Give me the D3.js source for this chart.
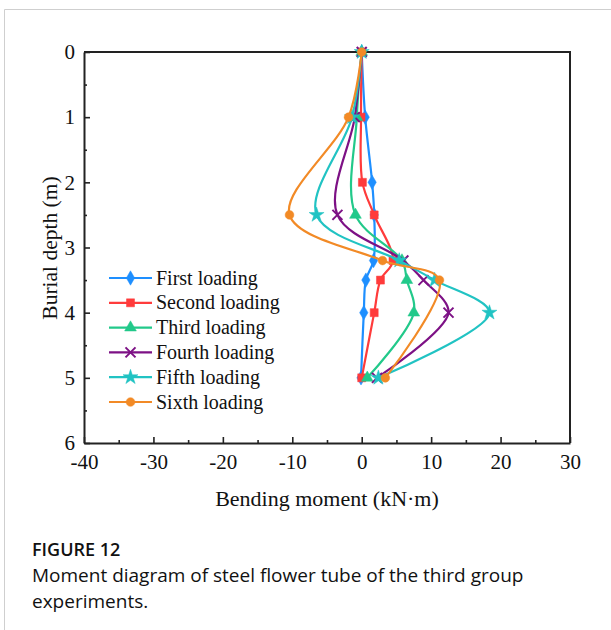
<!DOCTYPE html>
<html>
<head>
<meta charset="utf-8">
<script src="https://cdn.jsdelivr.net/npm/d3@7"></script>
<style>
  body { margin: 0; background: #fff; }
  svg text { font-family: "Times New Roman", "Liberation Serif", serif; fill: #111; }
</style>
</head>
<body>
<svg id="chart" width="611" height="630"></svg>
<script>
// depth (m) and bending moment (kN·m)
var firstDepth = [0, 1, 2, 2.5, 3.2, 3.5, 4, 5];
var firstMoment = [0, 0.5, 1.5, 1.8, 1.7, 0.6, 0.3, -0.1];
var secondDepth = [0, 1, 2, 2.5, 3.2, 3.5, 4, 5];
var secondMoment = [0, -0.1, 0.1, 1.8, 4.5, 2.7, 1.8, 0];
var thirdDepth = [0, 1, 2.5, 3.2, 3.5, 4, 5];
var thirdMoment = [0, -0.7, -0.9, 5.8, 6.5, 7.5, 0.8];
var fourthDepth = [0, 1, 2.5, 3.2, 3.5, 4, 5];
var fourthMoment = [0, -1.0, -3.5, 6.0, 8.9, 12.5, 2.2];
var fifthDepth = [0, 1, 2.5, 3.2, 3.5, 4, 5];
var fifthMoment = [0, -1.4, -6.5, 5.4, 10.5, 18.4, 2.4];
var sixthDepth = [0, 1, 2.5, 3.2, 3.5, 5];
var sixthMoment = [0, -1.9, -10.4, 3.0, 11.2, 3.4];

var seriesNames = ["First loading", "Second loading", "Third loading", "Fourth loading", "Fifth loading", "Sixth loading"];
var seriesColors = ["#1e8fff", "#ff3b3b", "#22c98a", "#7d1185", "#21c3c3", "#f28a26"];
var xTicks = [-40, -30, -20, -10, 0, 10, 20, 30];
var yTicks = [0, 1, 2, 3, 4, 5, 6];

var depths = [firstDepth, secondDepth, thirdDepth, fourthDepth, fifthDepth, sixthDepth];
var moments = [firstMoment, secondMoment, thirdMoment, fourthMoment, fifthMoment, sixthMoment];

var svg = d3.select("#chart");

// card border of the page
svg.append("path")
    .attr("d", "M4.5,630 L4.5,9.5 L611,9.5")
    .attr("fill", "none").attr("stroke", "#cfcfcf").attr("stroke-width", 1);

var x = d3.scaleLinear().domain([-40, 30]).range([84, 570]);
var y = d3.scaleLinear().domain([0, 6]).range([52, 443]);

var axisColor = "#222";
var plain = function (d) { return String(d); };

// minor ticks
svg.append("g").attr("transform", "translate(0,443)")
    .call(d3.axisBottom(x).tickValues(d3.range(-35, 30, 10)).tickSize(-3).tickSizeOuter(0).tickFormat(""))
    .call(function (g) { g.select(".domain").remove(); g.selectAll("line").attr("stroke", axisColor).attr("stroke-width", 1.6); });
svg.append("g").attr("transform", "translate(84,0)")
    .call(d3.axisLeft(y).tickValues([0.5, 1.5, 2.5, 3.5, 4.5, 5.5]).tickSize(-3).tickSizeOuter(0).tickFormat(""))
    .call(function (g) { g.select(".domain").remove(); g.selectAll("line").attr("stroke", axisColor).attr("stroke-width", 1.6); });

// major axes
var xAxis = svg.append("g").attr("transform", "translate(0,443)")
    .call(d3.axisBottom(x).tickValues(xTicks).tickFormat(plain).tickSize(-6).tickSizeOuter(0).tickPadding(11));
var yAxis = svg.append("g").attr("transform", "translate(84,0)")
    .call(d3.axisLeft(y).tickValues(yTicks).tickFormat(plain).tickSize(-6).tickSizeOuter(0).tickPadding(9));
[xAxis, yAxis].forEach(function (g) {
    g.select(".domain").attr("stroke", axisColor).attr("stroke-width", 2);
    g.selectAll(".tick line").attr("stroke", axisColor).attr("stroke-width", 1.6);
    g.selectAll(".tick text").style("font-size", "21px").attr("fill", "#111")
        .style("font-family", '"Times New Roman", "Liberation Serif", serif');
});

// top and right frame
svg.append("path")
    .attr("d", "M" + x(-40) + "," + y(0) + " L" + x(30) + "," + y(0) + " L" + x(30) + "," + y(6))
    .attr("fill", "none").attr("stroke", axisColor).attr("stroke-width", 2);

// axis titles
svg.append("text").attr("x", 327).attr("y", 506).attr("text-anchor", "middle")
    .style("font-size", "22px").text("Bending moment (kN·m)");
svg.append("text").attr("transform", "translate(57,248) rotate(-90)").attr("text-anchor", "middle")
    .style("font-size", "21.5px").text("Burial depth (m)");

// markers
function xMark(s) {
    return "M" + (-s) + "," + (-s) + "L" + s + "," + s + "M" + (-s) + "," + s + "L" + s + "," + (-s);
}
var markers = [
    d3.symbol().type(d3.symbolDiamond).size(60)(),
    d3.symbol().type(d3.symbolSquare).size(64)(),
    d3.symbol().type(d3.symbolTriangle).size(60)(),
    xMark(5),
    d3.symbol().type(d3.symbolStar).size(70)(),
    d3.symbol().type(d3.symbolCircle).size(60)()
];

var line = d3.line()
    .x(function (d) { return x(d[0]); })
    .y(function (d) { return y(d[1]); })
    .curve(d3.curveCatmullRom.alpha(0.5));

depths.forEach(function (dep, i) {
    var pts = dep.map(function (d, k) { return [moments[i][k], d]; });
    var g = svg.append("g");
    g.append("path").attr("d", line(pts))
        .attr("fill", "none").attr("stroke", seriesColors[i]).attr("stroke-width", 2.2);
    g.selectAll("path.m").data(pts).enter().append("path")
        .attr("class", "m")
        .attr("d", markers[i])
        .attr("transform", function (d) { return "translate(" + x(d[0]) + "," + y(d[1]) + ")"; })
        .attr("fill", i === 3 ? "none" : seriesColors[i])
        .attr("stroke", seriesColors[i])
        .attr("stroke-width", i === 3 ? 2 : 0.5);
});

// legend
var legend = svg.append("g");
seriesNames.forEach(function (name, i) {
    var ly = 278 + i * 24.8;
    legend.append("line").attr("x1", 109).attr("x2", 152).attr("y1", ly).attr("y2", ly)
        .attr("stroke", seriesColors[i]).attr("stroke-width", 2.2);
    legend.append("path").attr("d", markers[i])
        .attr("transform", "translate(130.5," + ly + ")")
        .attr("fill", i === 3 ? "none" : seriesColors[i])
        .attr("stroke", seriesColors[i])
        .attr("stroke-width", i === 3 ? 2 : 0.5);
    legend.append("text").attr("x", 156).attr("y", ly + 6.5)
        .style("font-size", "20px").text(name);
});

// caption
var capFont = '"Open Sans", "Noto Sans", sans-serif';
svg.append("text").attr("x", 32).attr("y", 556)
    .style("font-size", "18px").style("font-weight", "600").attr("fill", "#666")
    .style("font-family", capFont)
    .text("FIGURE 12");
svg.append("text").attr("x", 32).attr("y", 582)
    .style("font-size", "19px").attr("fill", "#777")
    .style("font-family", capFont)
    .text("Moment diagram of steel flower tube of the third group");
svg.append("text").attr("x", 32).attr("y", 608)
    .style("font-size", "19px").attr("fill", "#777")
    .style("font-family", capFont)
    .text("experiments.");
</script>
</body>
</html>
